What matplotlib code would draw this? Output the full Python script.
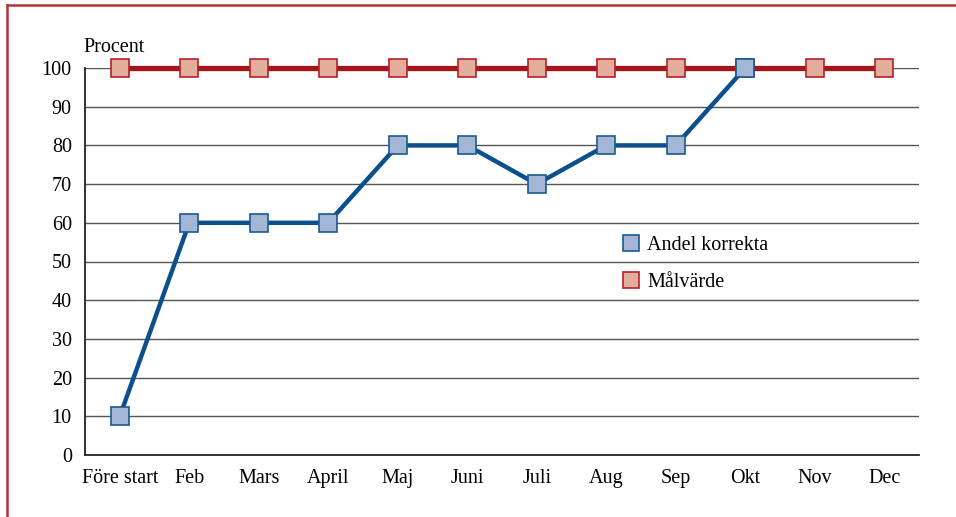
import matplotlib
matplotlib.use("Agg")
import matplotlib.pyplot as plt
from matplotlib.lines import Line2D

months = ["Före start", "Feb", "Mars", "April", "Maj", "Juni", "Juli",
          "Aug", "Sep", "Okt", "Nov", "Dec"]
andel_korrekta = [10, 60, 60, 60, 80, 80, 70, 80, 80, 100]
malvarde = [100] * 12
yticks = list(range(0, 101, 10))

plt.rcParams['font.family'] = ['Liberation Serif', 'DejaVu Serif']
plt.rcParams['font.size'] = 14.5

fig = plt.figure(figsize=(9.56, 5.17), dpi=100)
ax = fig.add_axes([85/956, 1 - 455/517, (919 - 85)/956, (455 - 68)/517])

for y in yticks[1:]:
    ax.axhline(y, color="#555555", lw=1.0, zorder=1)

x_all = list(range(len(months)))
ax.plot(x_all, malvarde, color="#a8141c", lw=3.8, marker="s", markersize=12.3,
        markerfacecolor="#e2ae9b", markeredgecolor="#b5202a", markeredgewidth=1.2,
        label="Målvärde", clip_on=False, zorder=3)
ax.plot(x_all[:len(andel_korrekta)], andel_korrekta, color="#0b4f8c", lw=3.2,
        marker="s", markersize=12.3, markerfacecolor="#a4b6d6",
        markeredgecolor="#1a5a95", markeredgewidth=1.2,
        label="Andel korrekta", clip_on=False, zorder=4)

ax.set_xlim(-0.5, 11.5)
ax.set_ylim(0, 100)
ax.set_xticks(x_all)
ax.set_xticklabels(months)
ax.set_yticks(yticks)
ax.tick_params(axis="x", length=0, pad=10)
ax.tick_params(axis="y", length=0, pad=9.5)
for s in ["top", "right"]:
    ax.spines[s].set_visible(False)
for s in ["left", "bottom"]:
    ax.spines[s].set_color("#222222")
    ax.spines[s].set_linewidth(1.3)

ax.text(-0.52, 102.8, "Procent", ha="left", va="bottom")

handles = [Line2D([], [], ls="none", marker="s", markersize=11.5,
                  markerfacecolor="#a4b6d6", markeredgecolor="#1a5a95", markeredgewidth=1.2),
           Line2D([], [], ls="none", marker="s", markersize=11.5,
                  markerfacecolor="#e2ae9b", markeredgecolor="#b5202a", markeredgewidth=1.2)]
ax.legend(handles, ["Andel korrekta", "Målvärde"], frameon=False,
          loc="upper left", bbox_to_anchor=(611/956, 1 - 226/517),
          bbox_transform=fig.transFigure, handletextpad=0.3, labelspacing=0.9,
          handlelength=1.0, borderpad=0)

# frame around the figure (only top and left visible)
fig.add_artist(Line2D([7/956, 1], [1 - 5/517, 1 - 5/517], transform=fig.transFigure,
                      color="#b4323a", lw=1.8))
fig.add_artist(Line2D([7/956, 7/956], [0, 1 - 5/517], transform=fig.transFigure,
                      color="#b4323a", lw=1.8))

fig.savefig("out.png", dpi=100)
